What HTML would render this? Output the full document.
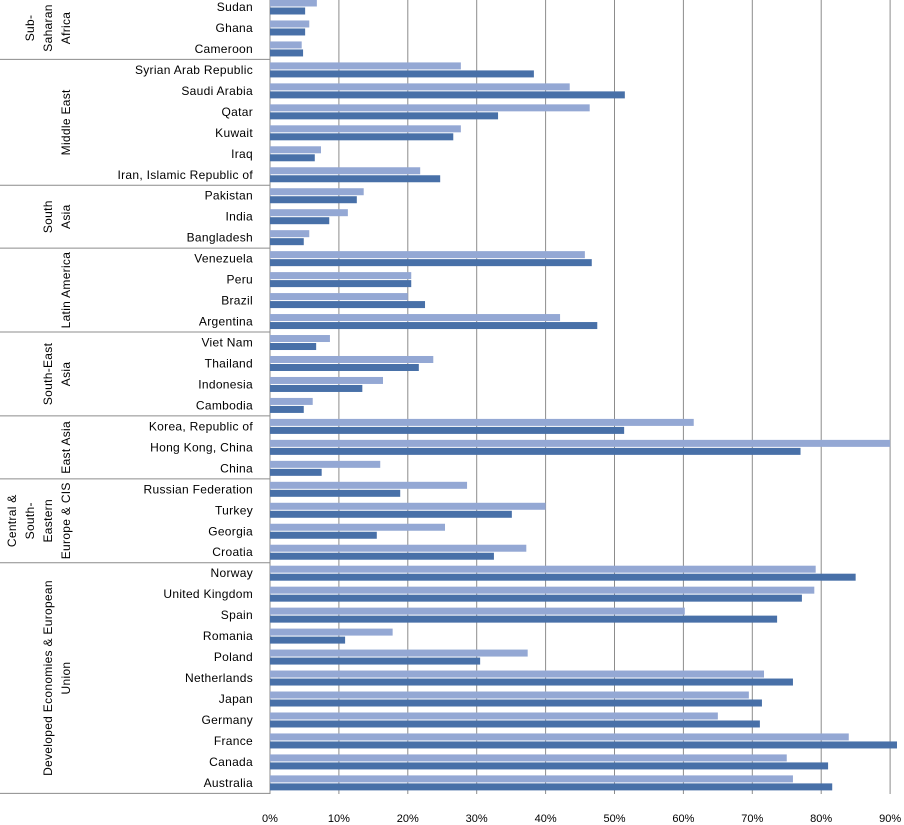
<!DOCTYPE html>
<html><head><meta charset="utf-8"><style>
html,body{margin:0;padding:0;background:#fff;}
svg{display:block;font-family:"Liberation Sans",sans-serif;}
</style></head><body>
<svg id="chart" width="904" height="825" viewBox="0 0 904 825"></svg>
<script>
const countries=["Sudan","Ghana","Cameroon","Syrian Arab Republic","Saudi Arabia","Qatar","Kuwait","Iraq","Iran, Islamic Republic of","Pakistan","India","Bangladesh","Venezuela","Peru","Brazil","Argentina","Viet Nam","Thailand","Indonesia","Cambodia","Korea, Republic of","Hong Kong, China","China","Russian Federation","Turkey","Georgia","Croatia","Norway","United Kingdom","Spain","Romania","Poland","Netherlands","Japan","Germany","France","Canada","Australia"];
const seriesLight=[6.8,5.7,4.6,27.7,43.5,46.4,27.7,7.4,21.8,13.6,11.3,5.7,45.7,20.5,20,42.1,8.7,23.7,16.4,6.2,61.5,90,16,28.6,40,25.4,37.2,79.2,79,60.2,17.8,37.4,71.7,69.5,65,84,75,75.9];
const seriesDark=[5.1,5.1,4.8,38.3,51.5,33.1,26.6,6.5,24.7,12.6,8.6,4.9,46.7,20.5,22.5,47.5,6.7,21.6,13.4,4.9,51.4,77,7.5,18.9,35.1,15.5,32.5,85,77.2,73.6,10.9,30.5,75.9,71.4,71.1,91,81,81.6];
const tickLabels=["0%","10%","20%","30%","40%","50%","60%","70%","80%","90%"];
const groupNames=[["Sub-","Saharan","Africa"],["Middle East"],["South","Asia"],["Latin America"],["South-East","Asia"],["East Asia"],["Central &","South-","Eastern","Europe & CIS"],["Developed Economies & European","Union"]];
const groupStarts=[0,3,9,12,16,20,23,27];
const groupEnds=[2,8,11,15,19,22,26,37];

const NS="http://www.w3.org/2000/svg";
const svg=document.getElementById("chart");
const x0=270, pxPer=6.89, rowH=20.97, y0=7;
const xs=v=>x0+v*pxPer;
const yc=i=>y0+i*rowH;
function mk(t,a,p){const e=document.createElementNS(NS,t);for(const k in a)e.setAttribute(k,a[k]);(p||svg).appendChild(e);return e;}

tickLabels.forEach((t,i)=>{
  const g=mk("line",{x1:xs(i*10),x2:xs(i*10),y1:0,y2:794,stroke:"#8c8c8c","stroke-width":1});
  
  
  const tx=mk("text",{x:xs(i*10),y:822,"text-anchor":"middle","font-size":11,fill:"#000"});
  tx.textContent=t;
  
  
});
const ax=mk("line",{x1:x0,x2:x0,y1:0,y2:794,stroke:"#8c8c8c","stroke-width":1});



countries.forEach((c,i)=>{
  const cy=yc(i);
  const b1=mk("rect",{x:x0,y:cy-7.5,width:Math.max(0,xs(seriesLight[i])-x0),height:7,fill:"#94a8d4"});
  
  
  const b2=mk("rect",{x:x0,y:cy+0.5,width:Math.max(0,xs(seriesDark[i])-x0),height:7,fill:"#4870a8"});
  
  
  const t=mk("text",{x:253,y:cy+4,"text-anchor":"end","font-size":12,fill:"#000","letter-spacing":"0.3"});
  t.textContent=c;
  
  
});

groupStarts.forEach((s,gi)=>{
  const e=groupEnds[gi];
  const yb=yc(e)+rowH/2;
  const l=mk("line",{x1:0,x2:x0,y1:yb,y2:yb,stroke:"#8c8c8c","stroke-width":1});
  
  
  const ym=(yc(s)-rowH/2+yb)/2;
  const lines=groupNames[gi];
  const n=lines.length, lh=18;
  const g=mk("text",{transform:`translate(${70-(n-1)*lh},${ym}) rotate(-90)`,"text-anchor":"middle","font-size":12,fill:"#000","letter-spacing":"0.3"});
  
  
  lines.forEach((ln,k)=>{const ts=mk("tspan",{x:0,dy:k==0?0:lh},g);ts.textContent=ln;});
});
</script>
</body></html>
